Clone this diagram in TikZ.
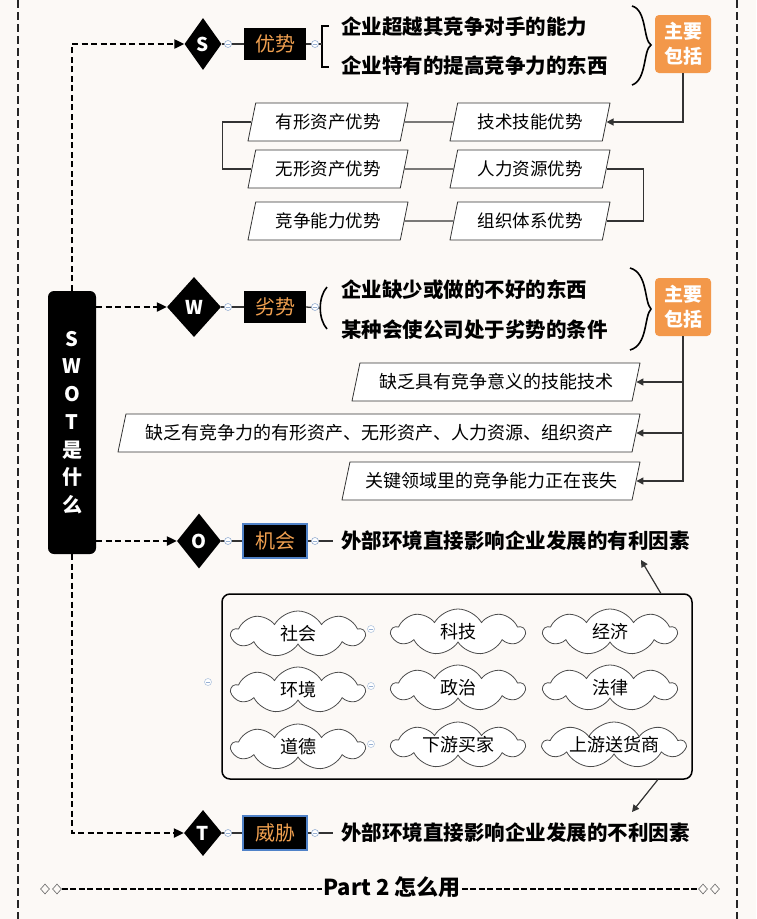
\documentclass[tikz,border=0pt]{standalone}
\usepackage{fontspec}
\setmainfont{Noto Sans CJK SC}
\usetikzlibrary{shapes.geometric,shapes.symbols,arrows.meta}
\definecolor{bg}{RGB}{252,249,246}
\definecolor{orangeT}{RGB}{240,160,80}
\definecolor{orangeB}{RGB}{243,152,74}
\definecolor{blueB}{RGB}{80,130,200}
\definecolor{iconC}{RGB}{150,175,210}
\begin{document}
\begin{tikzpicture}[x=1pt,y=-1pt,
  dconn/.style={line width=2.2pt,dash pattern=on 6pt off 3.5pt,-{Triangle[length=10pt,width=9pt]}},
  border/.style={line width=2pt,dash pattern=on 8pt off 4pt,color=black!85},
  dia/.style={diamond,fill=black,text=white,inner sep=0pt,font=\fontsize{19}{19}\selectfont\bfseries},
  lab/.style={fill=black,text=orangeT,minimum width=62pt,minimum height=32pt,inner sep=0pt,font=\fontsize{20}{20}\selectfont},
  labb/.style={lab,draw=blueB,line width=2pt,minimum width=64pt,minimum height=34pt},
  icon/.style={circle,draw=iconC,fill=white,minimum size=7pt,inner sep=0pt,line width=0.6pt,
    path picture={\draw[iconC,line width=0.6pt] ([xshift=-2pt]path picture bounding box.center) -- ([xshift=2pt]path picture bounding box.center);}},
  head/.style={anchor=west,inner sep=0pt,font=\fontsize{20.5}{24}\selectfont\bfseries},
  keybox/.style={fill=orangeB,rounded corners=4pt,text=white,minimum width=56pt,minimum height=58pt,inner sep=0pt,align=center,font=\fontsize{19}{25}\selectfont\bfseries},
  para/.style={trapezium,trapezium left angle=64.6,trapezium right angle=115.4,trapezium stretches body,draw=black!80,line width=0.8pt,fill=white,minimum height=38pt,inner sep=0pt,font=\fontsize{17.5}{20}\selectfont},
  wire/.style={line width=1.3pt,color=black!80},
  arr/.style={wire,-{Triangle[length=7pt,width=7pt]}},
  cl/.style={cloud,cloud puffs=9,cloud puff arc=120,cloud ignores aspect,draw=black!70,line width=0.8pt,fill=white,minimum width=133pt,minimum height=46pt,inner sep=0pt},
  cltext/.style={font=\fontsize{18}{20}\selectfont,inner sep=0pt},
  brk/.style={line width=1.6pt},
  smalldia/.style={diamond,draw=black!60,line width=0.6pt,minimum width=9pt,minimum height=10pt,inner sep=0pt}
]
\path[fill=bg] (0,0) rectangle (756,919);
\useasboundingbox (0,0) rectangle (756,919);
\draw[border] (18,0) -- (18,919);
\draw[border] (737,0) -- (737,919);

% main node
\node[fill=black,rounded corners=6pt,minimum width=48pt,minimum height=263pt,text=white,align=center,
  font=\fontsize{20}{27.7}\selectfont\bfseries,inner sep=0pt] (main) at (72,422.5) {S\\W\\O\\T\\是\\什\\么};

% diamonds
\node[dia,minimum width=37pt,minimum height=52pt] (Sd) at (203,44) {S};
\node[dia,minimum width=54pt,minimum height=60pt] (Wd) at (194,307) {W};
\node[dia,minimum width=44pt,minimum height=55pt] (Od) at (199,541) {O};
\node[dia,minimum width=38pt,minimum height=46pt] (Td) at (203,833) {T};

\draw[dconn] (main.north) |- (Sd.west);
\draw[dconn] (main.east |- Wd.west) -- (Wd.west);
\draw[dconn] (main.east |- Od.west) -- (Od.west);
\draw[dconn] (main.south) |- (Td.west);

% labels
\node[lab] (Sl) at (275,44) {优势};
\node[lab] (Wl) at (275,307) {劣势};
\node[labb] (Ol) at (275,541) {机会};
\node[labb] (Tl) at (275,833) {威胁};

\draw[wire] (Sd.east) -- (Sl.west);
\draw[wire] (Wd.east) -- (Wl.west);
\draw[wire] (Od.east) -- (Ol.west);
\draw[wire] (Td.east) -- (Tl.west);
\node[icon] (Si1) at (228,44) {};
\node[icon] (Wi1) at (228,307) {};
\node[icon] (Oi1) at (228,541) {};
\node[icon] (Ti1) at (228,833) {};

% S section
\coordinate (Sbr) at (322,44);
\draw[brk] (329,26) -- (322,26) -- (322,67) -- (329,67);
\draw[wire] (Sl.east) -- (Sbr);
\node[icon] (Si2) at (315,44) {};
\node[head] (S1) at (341,27) {企业超越其竞争对手的能力};
\node[head] (S2) at (341,66) {企业特有的提高竞争力的东西};
\draw[brk] (632,6) .. controls (647,10) and (643,40) .. (651,45) .. controls (643,50) and (647,80) .. (632,85);
\node[keybox] (Sk) at (683,44) {主要\\包括};

\node[para,minimum width=160pt] (pTan) at (328,122) {有形资产优势};
\node[para,minimum width=160pt] (pInt) at (328,169) {无形资产优势};
\node[para,minimum width=160pt] (pCom) at (328,221) {竞争能力优势};
\node[para,minimum width=160pt] (pTec) at (530,122) {技术技能优势};
\node[para,minimum width=160pt] (pHr) at (530,169) {人力资源优势};
\node[para,minimum width=160pt] (pOrg) at (530,221) {组织体系优势};

\draw[arr] (Sk.south) |- (pTec.east);
\draw[wire] (pTec.west) -- (pTan.east);
\draw[wire] (pTan.west) -- ++(-29,0) |- (pInt.west);
\draw[wire] (pInt.east) -- (pHr.west);
\draw[wire] (pHr.east) -- ++(37,0) |- (pOrg.east);
\draw[wire] (pOrg.west) -- (pCom.east);

% W section
\coordinate (Wbr) at (320,308);
\draw[brk] (327,287) .. controls (318,297) and (318,319) .. (327,329);
\draw[wire] (Wl.east) -- (Wbr);
\node[icon] (Wi2) at (315,307) {};
\node[head] (W1) at (341,290) {企业缺少或做的不好的东西};
\node[head] (W2) at (341,330) {某种会使公司处于劣势的条件};
\draw[brk] (630,268) .. controls (648,273) and (644,302) .. (651,309) .. controls (644,316) and (648,345) .. (630,350);
\node[keybox] (Wk) at (683,307) {主要\\包括};

\node[para,minimum width=288pt,font=\fontsize{18}{20}\selectfont] (w1) at (496,382) {缺乏具有竞争意义的技能技术};
\node[para,minimum width=522pt,font=\fontsize{18}{20}\selectfont] (w2) at (379,433) {缺乏有竞争力的有形资产、无形资产、人力资源、组织资产};
\node[para,minimum width=298pt,font=\fontsize{18}{20}\selectfont] (w3) at (491,481) {关键领域里的竞争能力正在丧失};
\draw[arr] (Wk.south) |- (w3.east);
\draw[arr] (Wk.south |- w1.east) -- (w1.east);
\draw[arr] (Wk.south |- w2.east) -- (w2.east);

% O section
\node[head] (Ot) at (341,541) {外部环境直接影响企业发展的有利因素};
\draw[wire] (Ol.east) -- ([xshift=-8pt]Ot.west);
\node[icon] (Oi2) at (315,541) {};

\node[draw,line width=1.5pt,rounded corners=8pt,minimum width=470pt,minimum height=185pt] (env) at (457,686.5) {};
\node[cl,label={[cltext]center:社会}] (c1) at (298,634) {};
\node[cl,label={[cltext]center:科技}] (c2) at (458,632) {};
\node[cl,label={[cltext]center:经济}] (c3) at (610,632) {};
\node[cl,label={[cltext]center:环境}] (c4) at (298,690) {};
\node[cl,label={[cltext]center:政治}] (c5) at (458,688) {};
\node[cl,label={[cltext]center:法律}] (c6) at (610,688) {};
\node[cl,label={[cltext]center:道德}] (c7) at (298,747) {};
\node[cl,label={[cltext]center:下游买家}] (c8) at (458,745) {};
\node[cl,minimum width=142pt,label={[cltext]center:上游送货商}] (c9) at (614,745) {};
\node[icon,draw=iconC!70] (e1) at (371,629) {};
\node[icon,draw=iconC!70] (e2) at (371,686) {};
\node[icon,draw=iconC!70] (e3) at (371,744) {};
\node[icon,draw=iconC!70] (e4) at (208,682) {};

\coordinate (oArr) at (641,560);
\coordinate (tArr) at (632,812);
\draw[arr,line width=1.2pt] ([xshift=-32pt]env.north east) -- (oArr);
\draw[arr,line width=1.2pt] ([xshift=-35pt]env.south east) -- (tArr);

% T section
\node[head] (Tt) at (341,833) {外部环境直接影响企业发展的不利因素};
\draw[wire] (Tl.east) -- ([xshift=-8pt]Tt.west);
\node[icon] (Ti2) at (315,833) {};

% bottom
\node[font=\fontsize{22}{24}\selectfont\bfseries,inner sep=1pt] (part) at (392,887) {Part 2 怎么用};
\node[smalldia] (d1) at (45,889) {};
\node[smalldia] (d2) at (57,889) {};
\node[smalldia] (d3) at (703,889) {};
\node[smalldia] (d4) at (715,889) {};
\draw[line width=2.2pt,dash pattern=on 6pt off 2.5pt] (d2.east) -- (part.west |- d2.east);
\draw[line width=2.2pt,dash pattern=on 6pt off 2.5pt] (part.east |- d3.west) -- (d3.west);
\end{tikzpicture}
\end{document}
